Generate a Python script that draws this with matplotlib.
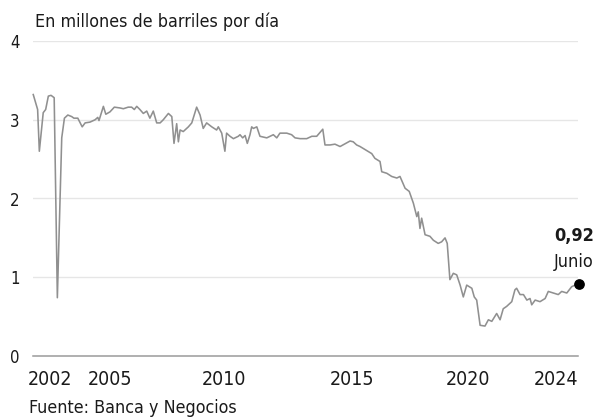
import matplotlib
matplotlib.use("Agg")
import matplotlib.pyplot as plt

# =====================================================
# DATA (year as decimal)
# =====================================================

years = [
    2002.01, 2002.19, 2002.26, 2002.36, 2002.42, 2002.52, 2002.63, 2002.74, 2002.87,
    2003.00, 2003.18, 2003.29, 2003.43, 2003.59, 2003.68, 2003.84,
    2004.02, 2004.14, 2004.34, 2004.55, 2004.66, 2004.71, 2004.89, 2004.99,
    2005.16, 2005.34, 2005.57, 2005.71, 2005.91,
    2006.05, 2006.16, 2006.26, 2006.39, 2006.53, 2006.67, 2006.80, 2006.94,
    2007.08, 2007.22, 2007.35, 2007.56, 2007.70, 2007.79, 2007.90, 2007.97,
    2008.04, 2008.17, 2008.38, 2008.52, 2008.72, 2008.86, 2008.99,
    2009.13, 2009.34, 2009.54, 2009.61, 2009.75, 2009.88, 2009.95,
    2010.09, 2010.23, 2010.43, 2010.50, 2010.61, 2010.71, 2010.80, 2010.91, 2010.98,
    2011.05, 2011.19, 2011.32, 2011.60, 2011.87,
    2012.01, 2012.14, 2012.42, 2012.62, 2012.76, 2012.97,
    2013.24, 2013.45, 2013.65, 2013.90, 2013.99,
    2014.20, 2014.40, 2014.61,
    2015.02, 2015.15, 2015.29, 2015.43, 2015.70, 2015.91,
    2016.04, 2016.25, 2016.32, 2016.53, 2016.73, 2016.94,
    2017.07, 2017.28, 2017.45, 2017.62, 2017.76, 2017.82, 2017.89, 2017.96,
    2018.10, 2018.30, 2018.44, 2018.64, 2018.78, 2018.92,
    2019.01, 2019.12, 2019.26, 2019.40, 2019.54, 2019.67, 2019.81,
    2020.02, 2020.12, 2020.22, 2020.36, 2020.56, 2020.70, 2020.84,
    2021.04, 2021.18, 2021.31, 2021.45, 2021.66, 2021.79, 2021.86,
    2022.00, 2022.14, 2022.28, 2022.41, 2022.48, 2022.62, 2022.82,
    2023.03, 2023.16, 2023.37, 2023.57, 2023.71, 2023.92,
    2024.12, 2024.26, 2024.42,
]

production = [
    3.32, 3.13, 2.60, 2.90, 3.09, 3.13, 3.30, 3.31, 3.28,
    0.74, 2.77, 3.02, 3.06, 3.04, 3.02, 3.02,
    2.91, 2.96, 2.97, 3.00, 3.03, 2.99, 3.17, 3.07,
    3.10, 3.16, 3.15, 3.14, 3.16,
    3.16, 3.13, 3.17, 3.13, 3.08, 3.11, 3.02, 3.11,
    2.96, 2.96, 3.00, 3.08, 3.04, 2.70, 2.95, 2.72,
    2.87, 2.85, 2.91, 2.96, 3.16, 3.06, 2.89,
    2.96, 2.91, 2.87, 2.91, 2.83, 2.60, 2.83,
    2.79, 2.76, 2.79, 2.81, 2.77, 2.80, 2.70, 2.81, 2.91,
    2.89, 2.91, 2.79, 2.77, 2.81,
    2.77, 2.83, 2.83, 2.81, 2.77, 2.76,
    2.76, 2.79, 2.79, 2.88, 2.68,
    2.68, 2.69, 2.66,
    2.73, 2.72, 2.68, 2.66, 2.61, 2.57,
    2.51, 2.47, 2.34, 2.32, 2.28, 2.26,
    2.28, 2.13, 2.09, 1.94, 1.77, 1.83, 1.62, 1.75,
    1.54, 1.52, 1.47, 1.43, 1.45, 1.50,
    1.43, 0.97, 1.05, 1.03, 0.90, 0.75, 0.90,
    0.86, 0.75, 0.71, 0.39, 0.38, 0.46, 0.44,
    0.54, 0.46, 0.60, 0.63, 0.69, 0.84, 0.86,
    0.78, 0.78, 0.71, 0.73, 0.65, 0.71, 0.69,
    0.73, 0.82, 0.80, 0.78, 0.82, 0.80,
    0.88, 0.90, 0.92,
]

tick_pos = [2002.7, 2005.16, 2009.84, 2015.1, 2019.86, 2023.48]
tick_labels = ["2002", "2005", "2010", "2015", "2020", "2024"]
y_ticks = [0, 1, 2, 3, 4]

last_value = "0,92"
last_month = "Junio"

# =====================================================
# STYLE
# =====================================================

TEXT = "#1a1a1a"
LINE = "#909090"
GRID = "#e6e6e6"
BASE = "#9a9a9a"

plt.rcParams.update({
    "font.family": "DejaVu Sans",
    "font.stretch": "condensed",
    "text.color": TEXT,
    "xtick.color": TEXT,
    "ytick.color": TEXT,
})

fig = plt.figure(figsize=(5.98, 4.19), dpi=100)
ax = fig.add_axes([33 / 598, 63 / 419, 545 / 598, 315 / 419])

for spine in ax.spines.values():
    spine.set_visible(False)

ax.set_xlim(2002.0, 2024.38)
ax.set_ylim(0, 4)

ax.set_yticks(y_ticks)
ax.set_yticklabels([str(v) for v in y_ticks], fontsize=12)
ax.set_xticks(tick_pos)
ax.set_xticklabels(tick_labels, fontsize=14)
ax.tick_params(axis="both", length=0)
ax.tick_params(axis="y", pad=9.5)
ax.tick_params(axis="x", pad=10)

for v in y_ticks[1:]:
    ax.axhline(v, color=GRID, linewidth=1.0, zorder=1)
ax.axhline(0, color=BASE, linewidth=1.1, zorder=2, clip_on=False)

ax.plot(years, production, color=LINE, linewidth=1.15, zorder=3,
        clip_on=False, solid_joinstyle="round")
ax.scatter([years[-1]], [production[-1]], s=45, color="black",
           zorder=4, clip_on=False)

fig.text(594 / 598, 1 - 236 / 419, last_value, ha="right", va="center",
         fontsize=13, fontweight="bold")
fig.text(594 / 598, 1 - 262 / 419, last_month, ha="right", va="center",
         fontsize=13)

fig.text(35 / 598, 1 - 22 / 419, "En millones de barriles por día",
         ha="left", va="center", fontsize=12.8)
fig.text(29 / 598, 1 - 408 / 419, "Fuente: Banca y Negocios",
         ha="left", va="center", fontsize=12.8)

fig.savefig("out.png", dpi=100)
